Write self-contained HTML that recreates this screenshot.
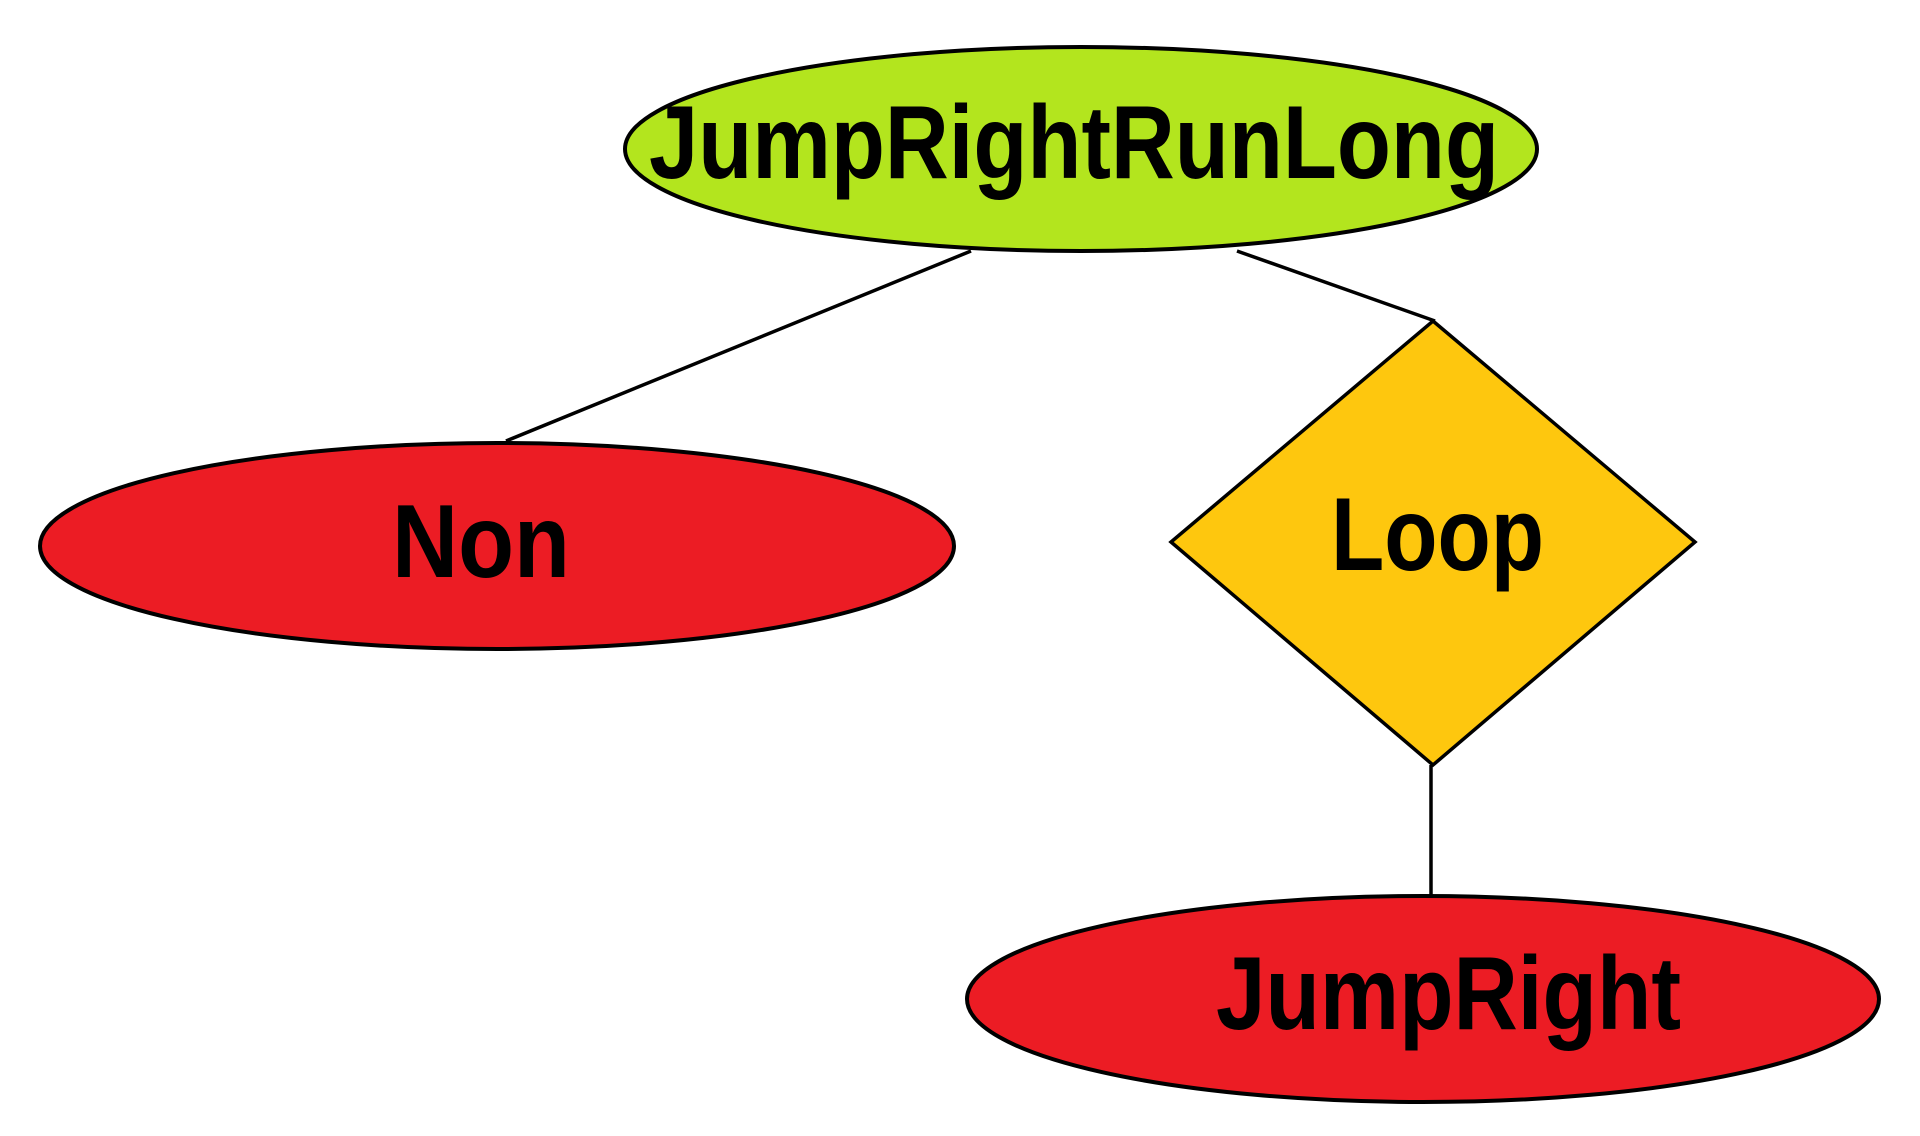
<!DOCTYPE html>
<html><head><meta charset="utf-8"><style>html,body{margin:0;padding:0;background:#fff;}svg{display:block}</style></head>
<body>
<svg width="1920" height="1136" viewBox="0 0 1920 1136" xmlns="http://www.w3.org/2000/svg">
<g stroke="#000" stroke-width="3.5" fill="none">
<line x1="971" y1="251" x2="506" y2="441"/>
<line x1="1237" y1="251" x2="1435" y2="321"/>
<line x1="1431" y1="765" x2="1431" y2="896"/>
</g>
<ellipse cx="1081" cy="149" rx="456" ry="102" fill="#b3e51e" stroke="#000" stroke-width="4"/>
<ellipse cx="497" cy="546" rx="457" ry="103" fill="#ec1c24" stroke="#000" stroke-width="4"/>
<polygon points="1433,321 1695,542 1433,765 1171,542" fill="#fec70e" stroke="#000" stroke-width="3.5"/>
<ellipse cx="1423" cy="999" rx="456" ry="103" fill="#ec1c24" stroke="#000" stroke-width="4"/>
<g font-family="Liberation Sans, sans-serif" font-weight="bold" font-size="104" fill="#000">
<text x="649" y="178" textLength="850" lengthAdjust="spacingAndGlyphs">JumpRightRunLong</text>
<text x="392" y="577" textLength="178" lengthAdjust="spacingAndGlyphs">Non</text>
<text x="1331" y="570" textLength="213" lengthAdjust="spacingAndGlyphs">Loop</text>
<text x="1216" y="1029" textLength="465" lengthAdjust="spacingAndGlyphs">JumpRight</text>
</g>
</svg>
</body></html>
